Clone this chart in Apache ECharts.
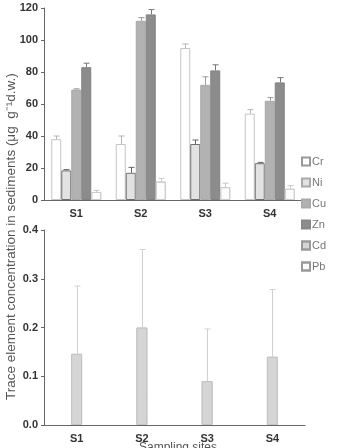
<!DOCTYPE html>
<html>
<head>
<meta charset="utf-8">
<script src="https://cdn.jsdelivr.net/npm/echarts@6/dist/echarts.min.js"></script>
<style>
  html, body { margin: 0; padding: 0; background: #fff; }
  #chart { width: 341px; height: 448px; }
</style>
</head>
<body>
<div id="chart"></div>
<script>
// sites and values (ug g-1 d.w.), upper error bar ends
var sites = ['S1', 'S2', 'S3', 'S4'];
var cr = [38, 35, 95, 54];
var crErr = [40, 40, 97.5, 56.5];
var ni = [18.5, 17, 35, 23];
var niErr = [19, 20.4, 37.5, 23.5];
var cu = [69, 112, 72, 62];
var cuErr = [69.5, 114, 77, 64];
var zn = [83, 116, 81, 73.5];
var znErr = [85.5, 119, 84.5, 76.5];
var pb = [5, 11.5, 8, 7];
var pbErr = [6, 13.5, 10.5, 9];
var cd = [0.146, 0.2, 0.09, 0.14];
var cdErr = [0.285, 0.36, 0.197, 0.278];
var topTicks = [0, 20, 40, 60, 80, 100, 120];
var bottomTicks = [0, 0.1, 0.2, 0.3, 0.4];

var chart = echarts.init(document.getElementById('chart'));

var axisLine = { lineStyle: { color: '#666', width: 1 } };
var axisLabel = { color: '#333', fontWeight: 'bold', fontSize: 11, fontFamily: 'Liberation Sans' };

function errData(vals, tops) {
    return vals.map(function (v, i) { return [i, v, tops[i]]; });
}

// error bar drawn from bar top up to err value, shifted to the bar's slot
function errSeries(name, vals, tops, offset, color, axisIdx) {
    return {
        type: 'custom',
        name: name + '_err',
        xAxisIndex: axisIdx,
        yAxisIndex: axisIdx,
        z: 5,
        silent: true,
        data: errData(vals, tops),
        renderItem: function (params, api) {
            var p0 = api.coord([api.value(0), api.value(1)]);
            var p1 = api.coord([api.value(0), api.value(2)]);
            var x = Math.round(p0[0] + offset) + 0.5;
            var st = { stroke: color, lineWidth: 1 };
            return {
                type: 'group',
                children: [
                    { type: 'line', shape: { x1: x, y1: p0[1], x2: x, y2: p1[1] }, style: st },
                    { type: 'line', shape: { x1: x - 3, y1: p1[1], x2: x + 3, y2: p1[1] }, style: st }
                ]
            };
        }
    };
}

function barSeries(name, data, fill, border, decal) {
    var s = {
        type: 'bar',
        name: name,
        data: data,
        barWidth: 10,
        barGap: '0%',
        itemStyle: { color: fill, borderColor: border, borderWidth: 1 }
    };
    if (decal) s.itemStyle.decal = decal;
    return s;
}

var dotDecal = {
    symbol: 'rect',
    symbolSize: 0.3,
    color: '#c0c0c0',
    dashArrayX: [1, 1],
    dashArrayY: [1, 2]
};
var crossDecal = {
    symbol: 'rect',
    symbolSize: 0.3,
    color: '#bdbdbd',
    dashArrayX: [1, 1],
    dashArrayY: [1, 1],
    rotation: Math.PI / 4
};

var option = {
    animation: false,
    backgroundColor: '#fff',
    grid: [
        { left: 44, right: 39, top: 8, height: 192 },
        { left: 44, right: 36, top: 230, height: 195 }
    ],
    xAxis: [
        { type: 'category', gridIndex: 0, data: sites, axisLine: axisLine,
          axisTick: { length: 3, lineStyle: { color: '#666' } },
          axisLabel: Object.assign({ margin: 8 }, axisLabel) },
        { type: 'category', gridIndex: 1, data: sites, axisLine: axisLine,
          axisTick: { length: 3, lineStyle: { color: '#666' } },
          axisLabel: Object.assign({ margin: 8 }, axisLabel) }
    ],
    yAxis: [
        { type: 'value', gridIndex: 0, min: topTicks[0], max: topTicks[topTicks.length - 1], interval: 20,
          axisLine: Object.assign({ show: true }, axisLine),
          axisTick: { show: true, length: 3, lineStyle: { color: '#666' } },
          splitLine: { show: false },
          axisLabel: Object.assign({ margin: 6 }, axisLabel) },
        { type: 'value', gridIndex: 1, min: bottomTicks[0], max: bottomTicks[bottomTicks.length - 1], interval: 0.1,
          axisLine: Object.assign({ show: true }, axisLine),
          axisTick: { show: true, length: 3, lineStyle: { color: '#666' } },
          splitLine: { show: false },
          axisLabel: Object.assign({ margin: 6, formatter: function (v) { return v.toFixed(1); } }, axisLabel) }
    ],
    legend: {
        orient: 'vertical',
        left: 296,
        top: 151,
        itemWidth: 8,
        itemHeight: 8,
        itemGap: 10,
        icon: 'rect',
        data: [
            { name: 'Cr', itemStyle: { borderColor: '#999' } },
            { name: 'Ni', itemStyle: { borderColor: '#aaa' } },
            { name: 'Cu', itemStyle: { borderColor: '#aaa' } },
            { name: 'Zn', itemStyle: { borderColor: '#888' } },
            { name: 'Cd', itemStyle: { borderColor: '#999' } },
            { name: 'Pb', itemStyle: { borderColor: '#999' } }
        ],
        textStyle: { color: '#777', fontSize: 11, lineHeight: 11, fontFamily: 'Liberation Sans', padding: [0, 0, 0, -3] }
    },
    graphic: [
        { type: 'text', x: 4, y: 400, rotation: Math.PI / 2,
          style: { text: 'Trace element concentration in sediments (\u03bcg  g\u207b\u00b9d.w.)',
                   fill: '#555', fontSize: 13.5, fontFamily: 'Liberation Sans' } },
        { type: 'text', left: 139, top: 442,
          style: { text: 'Sampling sites', fill: '#555', fontSize: 12, fontFamily: 'Liberation Sans' } }
    ],
    series: [
        barSeries('Cr', cr, '#ffffff', '#c4c4c4'),
        barSeries('Ni', ni, '#e2e2e2', '#707070'),
        barSeries('Cu', cu, '#b2b2b2', '#a8a8a8'),
        barSeries('Zn', zn, '#8c8c8c', '#828282'),
        barSeries('Pb', pb, '#ffffff', '#cccccc', dotDecal),
        errSeries('Cr', cr, crErr, -20, '#b5b5b5', 0),
        errSeries('Ni', ni, niErr, -10, '#666666', 0),
        errSeries('Cu', cu, cuErr, 0, '#999999', 0),
        errSeries('Zn', zn, znErr, 10, '#777777', 0),
        errSeries('Pb', pb, pbErr, 20, '#c8c8c8', 0),
        {
            type: 'bar', name: 'Cd', data: cd, xAxisIndex: 1, yAxisIndex: 1,
            barWidth: 11,
            itemStyle: { color: '#d6d6d6', borderColor: '#c4c4c4', borderWidth: 1, decal: crossDecal }
        },
        errSeries('Cd', cd, cdErr, 0, '#d0d0d0', 1)
    ]
};

chart.setOption(option);
</script>
</body>
</html>
